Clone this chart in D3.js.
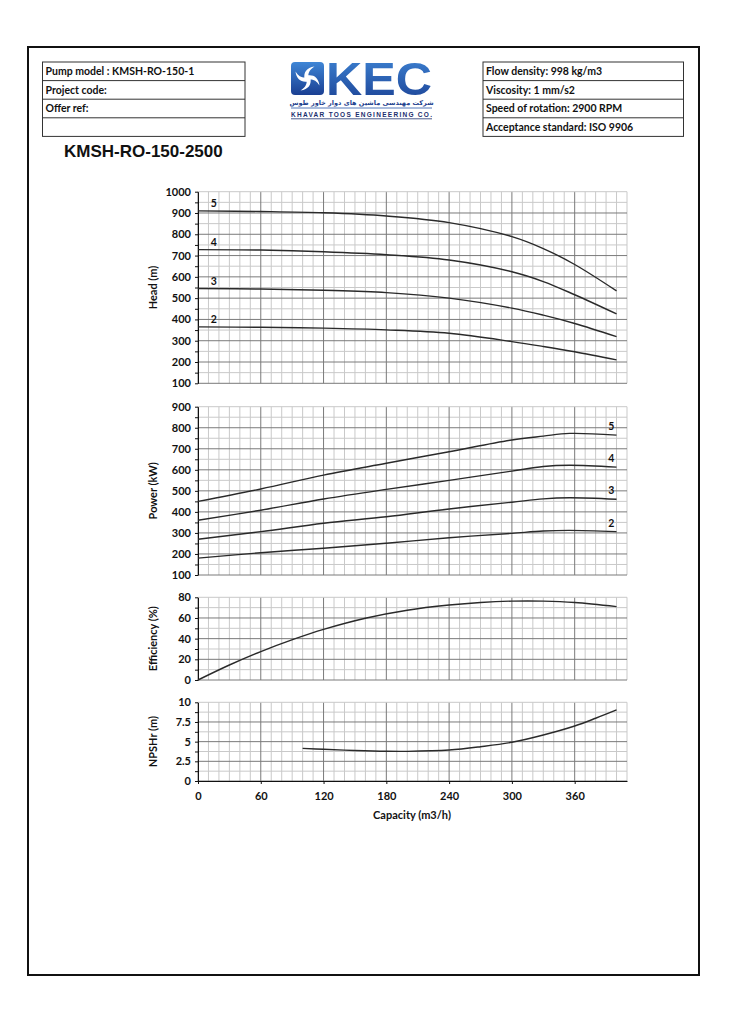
<!DOCTYPE html>
<html>
<head>
<meta charset="utf-8">
<script src="https://cdn.jsdelivr.net/npm/d3@7"></script>
<style>
  body { margin: 0; background: #fff; }
  svg { font-family: Lato, "Open Sans", sans-serif; }
</style>
</head>
<body>
<svg id="page" width="729" height="1024"></svg>
<script>
// header texts
const leftInfo = ['Pump model : KMSH-RO-150-1', 'Project code:', 'Offer ref:', ''];
const rightInfo = ['Flow density: 998 kg/m3', 'Viscosity: 1 mm/s2', 'Speed of rotation: 2900 RPM', 'Acceptance standard: ISO 9906'];
const title = 'KMSH-RO-150-2500';

// capacity (m3/h) ticks
const capacityTicks = [0, 60, 120, 180, 240, 300, 360];

// head curves (m), one per stage count
const headQ = [0, 60, 120, 180, 240, 300, 330, 360, 400];
const head5 = [910, 907, 901, 886, 855, 789, 733, 658, 534];
const head4 = [728, 726, 718, 704, 679, 624, 578, 516, 426];
const head3 = [545, 543, 537, 526, 500, 453, 420, 381, 319];
const head2 = [365, 363, 359, 351, 335, 296, 273, 248, 210];

// power curves (kW)
const powerQ = [0, 60, 120, 180, 240, 300, 330, 355, 400];
const power5 = [450, 509, 575, 631, 686, 742, 760, 773, 765];
const power4 = [360, 408, 461, 507, 550, 594, 616, 622, 613];
const power3 = [270, 306, 346, 377, 414, 446, 462, 467, 460];
const power2 = [180, 206, 227, 251, 277, 298, 309, 312, 306];

// efficiency (%)
const effQ = [0, 30, 60, 93, 120, 161, 200, 240, 270, 300, 330, 360, 400];
const eff = [0, 14.5, 27.5, 40, 49, 60, 67.5, 72.5, 75, 76.3, 76.3, 75, 71];

// NPSHr (m)
const npshQ = [100, 120, 150, 180, 200, 240, 270, 300, 330, 360, 380, 400];
const npsh = [4.15, 4.03, 3.88, 3.78, 3.77, 3.94, 4.36, 4.92, 5.85, 6.99, 7.97, 9.03];

const stageLabels = ['5', '4', '3', '2'];

const svg = d3.select('#page');

// outer frame
svg.append('rect')
  .attr('x', 28).attr('y', 47)
  .attr('width', 671).attr('height', 928)
  .attr('fill', 'none').attr('stroke', '#111').attr('stroke-width', 2);

// info boxes
function infoBox(x, w, rows) {
  const top = 62, rh = 18.6;
  const g = svg.append('g');
  g.append('rect')
    .attr('x', x).attr('y', top)
    .attr('width', w).attr('height', rh * rows.length)
    .attr('fill', 'none').attr('stroke', '#333').attr('stroke-width', 1);
  rows.forEach((t, i) => {
    if (i > 0) {
      g.append('line')
        .attr('x1', x).attr('x2', x + w)
        .attr('y1', top + i * rh).attr('y2', top + i * rh)
        .attr('stroke', '#333');
    }
    g.append('text')
      .attr('x', x + 3).attr('y', top + i * rh + 13)
      .attr('font-size', 10.5).attr('font-weight', 'bold')
      .attr('fill', '#111')
      .text(t);
  });
}
infoBox(42.5, 202.5, leftInfo);
infoBox(483, 200.5, rightInfo);

// title
svg.append('text')
  .attr('x', 64).attr('y', 157)
  .style('font-family', '"Liberation Sans", Arial, sans-serif')
  .attr('font-size', 17).attr('font-weight', 'bold')
  .attr('fill', '#111')
  .text(title);

// logo
const defs = svg.append('defs');
const lg = defs.append('linearGradient').attr('id', 'blue').attr('x1', 0).attr('y1', 0).attr('x2', 0).attr('y2', 1);
lg.append('stop').attr('offset', '0%').attr('stop-color', '#3f86d6');
lg.append('stop').attr('offset', '100%').attr('stop-color', '#1a3f92');

const logo = svg.append('g');
logo.append('rect')
  .attr('x', 291).attr('y', 62).attr('width', 33).attr('height', 33).attr('rx', 4)
  .attr('fill', 'url(#blue)');
const cx = 307.5, cy = 78.5;
[0, 90, 180, 270].forEach(a => {
  logo.append('path')
    .attr('transform', `translate(${cx},${cy}) rotate(${a})`)
    .attr('d', 'M0,-3 C6,-4 11,-1 12,7 C9,2 5,0 0,1 Z')
    .attr('fill', '#fff');
});
logo.append('circle').attr('cx', cx).attr('cy', cy).attr('r', 3).attr('fill', '#fff');
logo.append('text')
  .attr('x', 326).attr('y', 95)
  .style('font-family', '"Liberation Sans", Arial, sans-serif')
  .attr('font-size', 46).attr('font-weight', 'bold')
  .attr('textLength', 106).attr('lengthAdjust', 'spacingAndGlyphs')
  .attr('fill', 'url(#blue)')
  .text('KEC');
logo.append('text')
  .attr('x', 361.5).attr('y', 104.5)
  .attr('text-anchor', 'middle')
  .style('font-family', '"DejaVu Sans", sans-serif')
  .attr('font-size', 6.5).attr('font-weight', 'bold')
  .attr('fill', '#1d3f8e')
  .text('شرکت مهندسی ماشین های دوار خاور طوس');
logo.append('line').attr('x1', 291).attr('x2', 432).attr('y1', 108).attr('y2', 108)
  .attr('stroke', '#2a56a8').attr('stroke-width', 0.8);
logo.append('text')
  .attr('x', 291).attr('y', 116.5)
  .style('font-family', '"Liberation Sans", Arial, sans-serif')
  .attr('font-size', 6.5).attr('font-weight', 'bold')
  .attr('textLength', 141).attr('lengthAdjust', 'spacing')
  .attr('fill', '#1c2f6e')
  .text('KHAVAR TOOS ENGINEERING CO.');
logo.append('line').attr('x1', 291).attr('x2', 432).attr('y1', 118.8).attr('y2', 118.8)
  .attr('stroke', '#1c2f6e').attr('stroke-width', 0.8);

// charts
const x = d3.scaleLinear().domain([0, 410]).range([198, 627]);
const minorColor = '#c9c9c9', majorColor = '#7a7a7a';

const line = (ys) => d3.line()
  .x(d => x(d[0])).y(d => ys(d[1]))
  .curve(d3.curveCatmullRom.alpha(0.5));

function panel(opts) {
  const y = d3.scaleLinear().domain(opts.domain).range([opts.bottom, opts.top]);
  const g = svg.append('g');
  const [y0, y1] = opts.domain;
  const xs = d3.range(0, 411, 10);
  const hs = d3.range(y0, y1 + 1e-6, opts.minor);
  const isMajorX = v => v % 60 === 0;
  const isMajorY = v => Math.abs((v - y0) / opts.major - Math.round((v - y0) / opts.major)) < 1e-6;

  // minor grid first, major on top
  [false, true].forEach(major => {
    g.selectAll(null)
      .data(xs.filter(v => isMajorX(v) === major))
      .enter().append('line')
      .attr('x1', d => x(d)).attr('x2', d => x(d))
      .attr('y1', opts.top).attr('y2', opts.bottom)
      .attr('stroke', major ? majorColor : minorColor).attr('stroke-width', 1);
    g.selectAll(null)
      .data(hs.filter(v => isMajorY(v) === major && !(major && v === y1)))
      .enter().append('line')
      .attr('x1', x(0)).attr('x2', x(410))
      .attr('y1', d => y(d)).attr('y2', d => y(d))
      .attr('stroke', major ? majorColor : minorColor).attr('stroke-width', 1);
  });
  // top edge of grid
  g.append('line').attr('x1', x(0)).attr('x2', x(410))
    .attr('y1', opts.top).attr('y2', opts.top).attr('stroke', minorColor);

  const axis = d3.axisLeft(y)
    .tickValues(hs)
    .tickSize(3).tickSizeOuter(0).tickPadding(4)
    .tickFormat(d => isMajorY(d) ? opts.fmt(d) : '');
  const ag = g.append('g')
    .attr('transform', `translate(${x(0)},0)`)
    .call(axis)
    .attr('font-family', null);
  ag.select('.domain').attr('stroke', '#111');
  ag.selectAll('.tick line').attr('stroke', '#111');
  ag.selectAll('text')
    .attr('font-size', 11).attr('font-weight', 'bold').attr('fill', '#111');

  g.append('text')
    .attr('transform', `translate(157,${(opts.top + opts.bottom) / 2}) rotate(-90)`)
    .attr('text-anchor', 'middle')
    .attr('font-size', 11).attr('font-weight', 'bold').attr('fill', '#111')
    .text(opts.label);

  opts.series.forEach(s => {
    g.append('path')
      .datum(s.q.map((q, i) => [q, s.v[i]]))
      .attr('d', line(y))
      .attr('fill', 'none')
      .attr('stroke', '#2a2a2a').attr('stroke-width', 1.4);
  });
  return { g, y };
}

const headPanel = panel({
  domain: [100, 1000], top: 191.7, bottom: 383.3, major: 100, minor: 50,
  fmt: d3.format('d'), label: 'Head (m)',
  series: [head5, head4, head3, head2].map(v => ({ q: headQ, v }))
});
[head5, head4, head3, head2].forEach((v, i) => {
  headPanel.g.append('text')
    .attr('x', x(15)).attr('y', headPanel.y(v[0]) - 3.5)
    .attr('text-anchor', 'middle')
    .attr('font-size', 10.5).attr('font-weight', 'bold').attr('fill', '#111')
    .text(stageLabels[i]);
});

const powerPanel = panel({
  domain: [100, 900], top: 406.7, bottom: 575, major: 100, minor: 50,
  fmt: d3.format('d'), label: 'Power (kW)',
  series: [power5, power4, power3, power2].map(v => ({ q: powerQ, v }))
});
[power5, power4, power3, power2].forEach((v, i) => {
  powerPanel.g.append('text')
    .attr('x', x(395)).attr('y', powerPanel.y(v[v.length - 1]) - 5)
    .attr('text-anchor', 'middle')
    .attr('font-size', 10.5).attr('font-weight', 'bold').attr('fill', '#111')
    .text(stageLabels[i]);
});

panel({
  domain: [0, 80], top: 597.3, bottom: 680, major: 20, minor: 10,
  fmt: d3.format('d'), label: 'Efficiency (%)',
  series: [{ q: effQ, v: eff }]
});

panel({
  domain: [0, 10], top: 702.3, bottom: 781, major: 2.5, minor: 1.25,
  fmt: d => String(d), label: 'NPSHr (m)',
  series: [{ q: npshQ, v: npsh }]
});

// capacity axis
const xa = svg.append('g')
  .attr('transform', 'translate(0,781)')
  .call(d3.axisBottom(x).tickValues(capacityTicks).tickSize(3).tickSizeOuter(0).tickPadding(8)
    .tickFormat(d3.format('d')))
  .attr('font-family', null);
xa.select('.domain').attr('stroke', '#111');
xa.selectAll('.tick line').attr('stroke', '#111');
xa.selectAll('text')
  .attr('font-size', 11).attr('font-weight', 'bold').attr('fill', '#111');

svg.append('text')
  .attr('x', 412).attr('y', 818.5)
  .attr('text-anchor', 'middle')
  .attr('font-size', 11).attr('font-weight', 'bold').attr('fill', '#111')
  .text('Capacity (m3/h)');
</script>
</body>
</html>
